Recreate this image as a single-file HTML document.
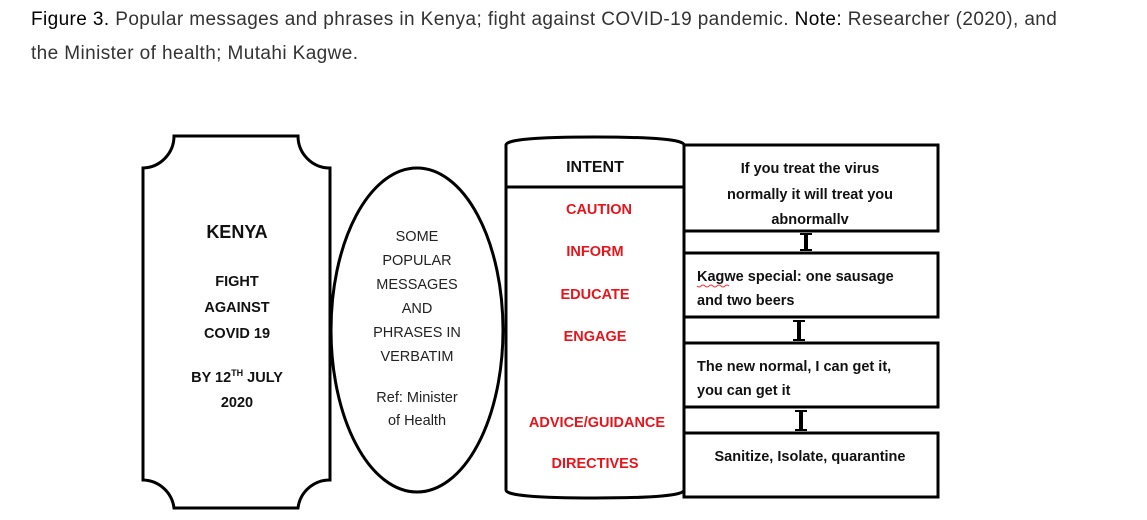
<!DOCTYPE html>
<html><head><meta charset="utf-8"><style>
body{margin:0;width:1147px;height:520px;background:#fff;overflow:hidden;font-family:"Liberation Sans",sans-serif}
.cap{position:absolute;left:31px;font-size:19px;letter-spacing:0.4px;color:#333;white-space:nowrap}
.cap b{font-weight:normal;color:#000}
</style></head><body>
<div class="cap" style="top:9px"><b>Figure 3.</b> Popular messages and phrases in Kenya; fight against COVID-19 pandemic. <b>Note:</b> Researcher (2020), and</div>
<div class="cap" style="top:43px">the Minister of health; Mutahi Kagwe.</div>
<svg width="1147" height="520" style="position:absolute;left:0;top:0" font-family="Liberation Sans, sans-serif">
<g fill="none" stroke="#000" stroke-width="3">
<path d="M174 136 H298 A32 32 0 0 0 330 168 V480 A32 32 0 0 0 298 508 H174 A32 32 0 0 0 143 480 V168 A32 32 0 0 0 174 136 Z"/>
<ellipse cx="417" cy="330" rx="86" ry="162"/>
<path d="M506 145 Q506 137 595 137 Q684 137 684 145 V490 Q684 498 595 498 Q506 498 506 490 Z"/>
<line x1="506" y1="187" x2="684" y2="187"/>
<rect x="684" y="145" width="254" height="86"/>
<rect x="684" y="253" width="254" height="64"/>
<rect x="684" y="343" width="254" height="64"/>
<rect x="684" y="433" width="254" height="64"/>
<line x1="684" y1="231" x2="684" y2="433"/>
</g>
<g stroke="#000">
<line x1="806" y1="233" x2="806" y2="251" stroke-width="4"/><line x1="800" y1="234" x2="812" y2="234" stroke-width="2"/><line x1="800" y1="250" x2="812" y2="250" stroke-width="2"/>
<line x1="799" y1="320" x2="799" y2="341" stroke-width="4"/><line x1="793" y1="321" x2="805" y2="321" stroke-width="2"/><line x1="793" y1="340" x2="805" y2="340" stroke-width="2"/>
<line x1="801" y1="410" x2="801" y2="431" stroke-width="4"/><line x1="795" y1="411" x2="807" y2="411" stroke-width="2"/><line x1="795" y1="430" x2="807" y2="430" stroke-width="2"/>
</g>
<g text-anchor="middle" font-weight="bold" fill="#111" font-size="14.5">
<text x="237" y="238" font-size="18">KENYA</text>
<text x="237" y="286">FIGHT</text>
<text x="237" y="312">AGAINST</text>
<text x="237" y="338">COVID 19</text>
<text x="237" y="382">BY 12<tspan font-size="9" dy="-6">TH</tspan><tspan dy="6"> JULY</tspan></text>
<text x="237" y="407">2020</text>
<text x="595" y="172" font-size="16">INTENT</text>
<text x="810" y="173">If you treat the virus</text>
<text x="810" y="199">normally it will treat you</text>
<text x="810" y="224">abnormallv</text>
<text x="697" y="281" text-anchor="start">Kagwe special: one sausage</text>
<text x="697" y="305" text-anchor="start">and two beers</text>
<text x="697" y="371" text-anchor="start">The new normal, I can get it,</text>
<text x="697" y="395" text-anchor="start">you can get it</text>
<text x="810" y="461">Sanitize, Isolate, quarantine</text>
</g>
<g text-anchor="middle" font-weight="bold" fill="#e8141b" font-size="14.5">
<text x="599" y="214">CAUTION</text>
<text x="595" y="256">INFORM</text>
<text x="595" y="299">EDUCATE</text>
<text x="595" y="341">ENGAGE</text>
<text x="597" y="427">ADVICE/GUIDANCE</text>
<text x="595" y="468">DIRECTIVES</text>
</g>
<path d="M697 286 q2 2 4 0 t4 0 t4 0 t4 0 t4 0 t4 0 t4 0 t4 0" stroke="#e33" fill="none" stroke-width="1"/>
<g text-anchor="middle" fill="#222" font-size="14.5">
<text x="417" y="241">SOME</text>
<text x="417" y="265">POPULAR</text>
<text x="417" y="289">MESSAGES</text>
<text x="417" y="313">AND</text>
<text x="417" y="337">PHRASES IN</text>
<text x="417" y="361">VERBATIM</text>
<text x="417" y="402">Ref: Minister</text>
<text x="417" y="425">of Health</text>
</g>
</svg>
</body></html>
